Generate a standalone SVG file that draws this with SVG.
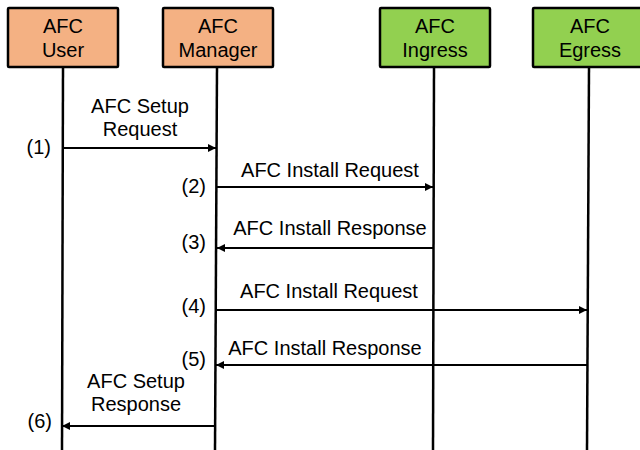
<svg xmlns="http://www.w3.org/2000/svg" width="640" height="450" viewBox="0 0 640 450">
<style>
text{font-family:"Liberation Sans",Arial,sans-serif;font-size:20px;fill:#000}
.c{text-anchor:middle}
.r{text-anchor:end}
.box{stroke:#000;stroke-width:2.5}
.or{fill:#F4B183}
.gr{fill:#92D050}
.life{stroke:#000;stroke-width:2.5;fill:none}
.msg{stroke:#000;stroke-width:2;fill:none;marker-end:url(#ah)}
</style>
<defs>
<marker id="ah" viewBox="0 0 10 10" refX="10" refY="5" markerWidth="4" markerHeight="4" orient="auto" markerUnits="strokeWidth">
<path d="M0,0 L10,5 L0,10 z" fill="#000"/>
</marker>
</defs>
<rect width="640" height="450" fill="#fff"/>
<g id="lifelines">
<line class="life" x1="63" y1="67" x2="62" y2="450"/>
<line class="life" x1="217" y1="67" x2="215" y2="450"/>
<line class="life" x1="434" y1="67" x2="433" y2="450"/>
<line class="life" x1="589" y1="67" x2="587" y2="450"/>
</g>
<g id="user">
<rect class="box or" x="8" y="8" width="110" height="59" rx="1"/>
<text class="c" x="63" y="33">AFC</text>
<text class="c" x="63" y="57">User</text>
</g>
<g id="manager">
<rect class="box or" x="163" y="8" width="110" height="59" rx="1"/>
<text class="c" x="218" y="33">AFC</text>
<text class="c" x="218" y="57">Manager</text>
</g>
<g id="ingress">
<rect class="box gr" x="380" y="8" width="110" height="59" rx="1"/>
<text class="c" x="435" y="33">AFC</text>
<text class="c" x="435" y="57">Ingress</text>
</g>
<g id="egress">
<rect class="box gr" x="533" y="8" width="110" height="59" rx="1"/>
<text class="c" x="590" y="33">AFC</text>
<text class="c" x="590" y="57">Egress</text>
</g>
<g id="connectors">
<line class="msg" x1="63" y1="148" x2="216" y2="148"/>
<line class="msg" x1="217" y1="187" x2="433" y2="187"/>
<line class="msg" x1="434" y1="248" x2="217" y2="248"/>
<line class="msg" x1="216" y1="310" x2="587" y2="310"/>
<line class="msg" x1="588" y1="365" x2="216" y2="365"/>
<line class="msg" x1="215" y1="426" x2="62" y2="426"/>
</g>
<g id="labels">
<text class="c" x="140" y="113">AFC Setup</text>
<text class="c" x="140" y="136">Request</text>
<text class="r" x="51" y="154">(1)</text>
<text class="c" x="330" y="177">AFC Install Request</text>
<text class="r" x="206" y="193">(2)</text>
<text class="c" x="330" y="235">AFC Install Response</text>
<text class="r" x="206" y="249">(3)</text>
<text class="c" x="329" y="298">AFC Install Request</text>
<text class="r" x="206" y="313">(4)</text>
<text class="c" x="325" y="355">AFC Install Response</text>
<text class="r" x="206" y="366">(5)</text>
<text class="c" x="136" y="388">AFC Setup</text>
<text class="c" x="136" y="411">Response</text>
<text class="r" x="52" y="428">(6)</text>
</g>
</svg>
